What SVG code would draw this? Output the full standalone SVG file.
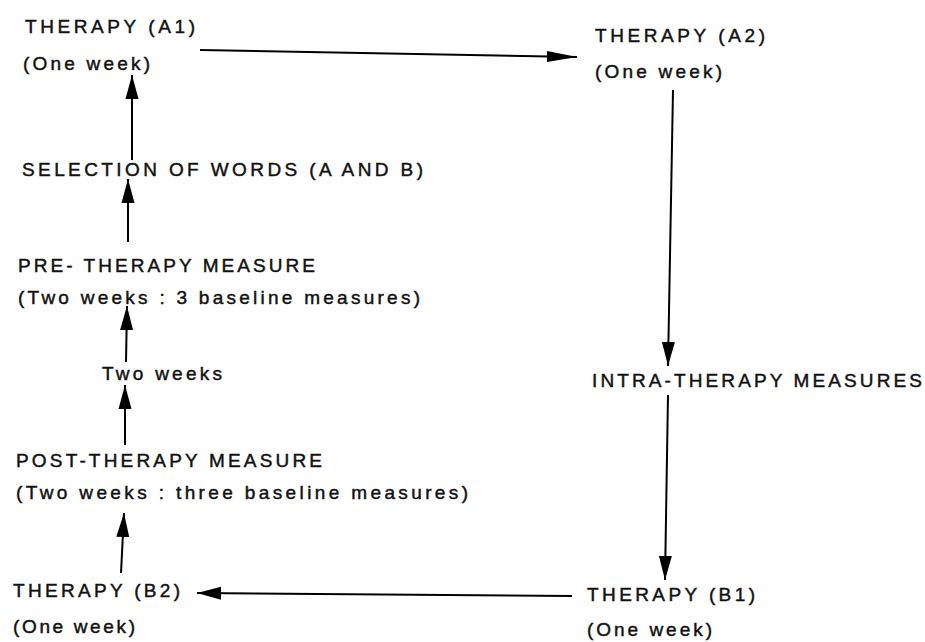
<svg xmlns="http://www.w3.org/2000/svg" width="925" height="642" viewBox="0 0 925 642">
<defs>
<marker id="ah" markerUnits="userSpaceOnUse" markerWidth="26" markerHeight="14" refX="24" refY="7" orient="auto"><path d="M0,0.5 L24,7 L0,13.5 Z" fill="#000"/></marker>
<marker id="ahl" markerUnits="userSpaceOnUse" markerWidth="32" markerHeight="12" refX="30" refY="6" orient="auto"><path d="M0,0.5 L30,6 L0,11.5 Z" fill="#000"/></marker>
</defs>
<style>
text{font-family:"Liberation Sans",Arial,sans-serif;font-size:19px;fill:#111;stroke:#111;stroke-width:0.45;}
.c line{stroke:#000;stroke-width:2;fill:none;}
.a{marker-end:url(#ah);}
.al{marker-end:url(#ahl);}
</style>
<rect width="925" height="642" fill="#fff"/>
<g id="therapy-a1">
<text x="25" y="33" textLength="170" lengthAdjust="spacing">THERAPY (A1)</text>
<text x="23" y="70" textLength="127" lengthAdjust="spacing">(One week)</text>
</g>
<g id="therapy-a2">
<text x="595" y="42" textLength="170" lengthAdjust="spacing">THERAPY (A2)</text>
<text x="595" y="78" textLength="127" lengthAdjust="spacing">(One week)</text>
</g>
<g id="selection">
<text x="22" y="176" textLength="401" lengthAdjust="spacing">SELECTION OF WORDS (A AND B)</text>
</g>
<g id="pre-therapy">
<text x="18" y="272" textLength="297" lengthAdjust="spacing">PRE- THERAPY MEASURE</text>
<text x="18" y="304" textLength="402" lengthAdjust="spacing">(Two weeks : 3 baseline measures)</text>
</g>
<g id="two-weeks">
<text x="102" y="380" textLength="120" lengthAdjust="spacing">Two weeks</text>
</g>
<g id="post-therapy">
<text x="16" y="467" textLength="306" lengthAdjust="spacing">POST-THERAPY MEASURE</text>
<text x="16" y="499" textLength="452" lengthAdjust="spacing">(Two weeks : three baseline measures)</text>
</g>
<g id="therapy-b2">
<text x="13" y="597" textLength="167" lengthAdjust="spacing">THERAPY (B2)</text>
<text x="13" y="633" textLength="122" lengthAdjust="spacing">(One week)</text>
</g>
<g id="intra-therapy">
<text x="592" y="387" textLength="330" lengthAdjust="spacing">INTRA-THERAPY MEASURES</text>
</g>
<g id="therapy-b1">
<text x="587" y="601" textLength="168" lengthAdjust="spacing">THERAPY (B1)</text>
<text x="587" y="636" textLength="125" lengthAdjust="spacing">(One week)</text>
</g>
<g id="connectors" class="c">
<line class="al" x1="200" y1="50" x2="577" y2="57"/>
<line class="a" x1="673" y1="90" x2="668" y2="366"/>
<line class="a" x1="668" y1="395" x2="665" y2="580"/>
<line class="a" x1="572" y1="596" x2="197" y2="593"/>
<line class="a" x1="121" y1="573" x2="124" y2="513"/>
<line class="a" x1="125" y1="445" x2="125" y2="385"/>
<line class="a" x1="126" y1="362" x2="127" y2="306"/>
<line class="a" x1="128" y1="242" x2="128" y2="179"/>
<line class="a" x1="132" y1="160" x2="132" y2="75"/>
</g>
</svg>
